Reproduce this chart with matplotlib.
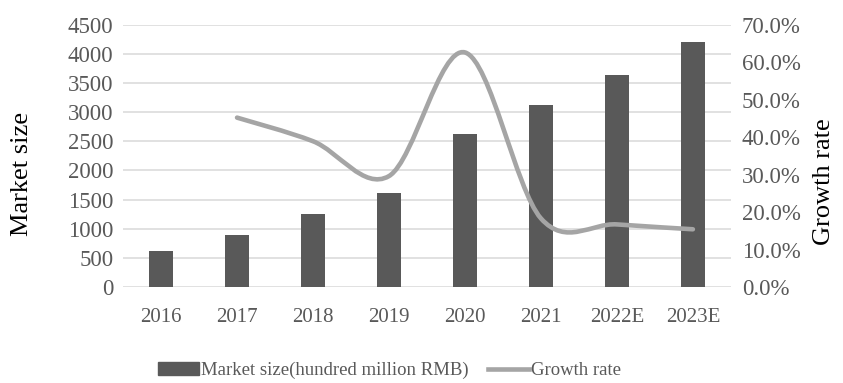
import matplotlib.pyplot as plt
from matplotlib.path import Path
from matplotlib.patches import PathPatch
from matplotlib.lines import Line2D
from matplotlib.ticker import FuncFormatter

plt.rcParams['font.family'] = ['Liberation Serif', 'DejaVu Serif']

years = ['2016', '2017', '2018', '2019', '2020', '2021', '2022E', '2023E']
market_size = [620, 900, 1250, 1620, 2630, 3120, 3640, 4200]
growth_idx = [1, 2, 3, 4, 5, 6, 7]
growth_rate = [45.2, 38.9, 29.6, 62.6, 18.3, 16.7, 15.4]

bar_color = '#595959'
line_color = '#a5a5a5'
text_color = '#595959'


def smooth_path(xs, ys, sx, sy):
    # excel-style smoothed line: bezier segments with catmull-rom handles,
    # handles computed in screen-like units (sx, sy = px per data unit)
    pts = [(x * sx, y * sy) for x, y in zip(xs, ys)]
    n = len(pts)
    verts = [pts[0]]
    codes = [Path.MOVETO]
    for i in range(n - 1):
        p0 = pts[i - 1] if i > 0 else pts[i]
        p1 = pts[i]
        p2 = pts[i + 1]
        p3 = pts[i + 2] if i + 2 < n else pts[i + 1]
        c1 = (p1[0] + (p2[0] - p0[0]) / 6, p1[1] + (p2[1] - p0[1]) / 6)
        c2 = (p2[0] - (p3[0] - p1[0]) / 6, p2[1] - (p3[1] - p1[1]) / 6)
        verts += [c1, c2, p2]
        codes += [Path.CURVE4] * 3
    verts = [(x / sx, y / sy) for x, y in verts]
    return Path(verts, codes)


fig = plt.figure(figsize=(8.43, 3.83), dpi=100)
ax = fig.add_axes([0.146, 0.2507, 0.721, 0.6848])
ax2 = ax.twinx()

x = list(range(len(years)))
ax.bar(x, market_size, width=0.31, color=bar_color, zorder=2)
ax.set_xlim(-0.5, 7.5)
ax.set_ylim(0, 4500)
ax.set_yticks(range(0, 4501, 500))
ax.set_xticks(x)
ax.set_xticklabels(years)
ax.yaxis.grid(True, color='#d9d9d9', linewidth=1.1, zorder=0)
ax.set_axisbelow(True)

ax2.set_ylim(0, 70)
ax2.set_yticks(range(0, 71, 10))
ax2.yaxis.set_major_formatter(FuncFormatter(lambda v, p: f'{v:.1f}%'))
path = smooth_path(growth_idx, growth_rate, 76.0, 262.0 / 70)
ax2.add_patch(PathPatch(path, facecolor='none', edgecolor=line_color,
                        lw=3.3, capstyle='round', joinstyle='round', zorder=3))

for a in (ax, ax2):
    for s in a.spines.values():
        s.set_visible(False)
    a.tick_params(length=0, colors=text_color)

ax.tick_params(axis='y', labelsize=16.5, pad=7)
ax.tick_params(axis='x', labelsize=15, pad=15)
ax2.tick_params(axis='y', labelsize=16.5, pad=8)

ax.set_ylabel('Market size', fontsize=19, color='black', va='center')
ax.yaxis.set_label_coords(-0.166, 0.43)
ax2.set_ylabel('Growth rate', fontsize=19, color='black', va='center', rotation=90)
ax2.yaxis.set_label_coords(1.153, 0.40)

handles = [
    plt.Rectangle((0, 0), 1, 1, color=bar_color),
    Line2D([0], [0], color=line_color, lw=3.3),
]
fig.legend(handles, ['Market size(hundred million RMB)', 'Growth rate'],
           loc='center', bbox_to_anchor=(0.462, 0.032), ncol=2, frameon=False,
           fontsize=13.5, handlelength=2.2, handleheight=0.65, handletextpad=0.12,
           columnspacing=1.0, labelcolor=text_color)

fig.savefig('out.png', dpi=100)
